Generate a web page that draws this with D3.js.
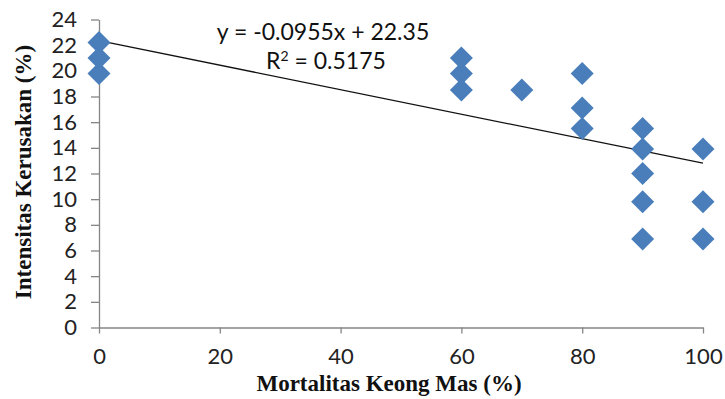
<!DOCTYPE html>
<html><head><meta charset="utf-8">
<script src="https://cdn.jsdelivr.net/npm/d3@7"></script>
<style>body{margin:0;background:#fff;} svg{display:block;}</style>
</head><body>
<svg id="c" width="725" height="399"></svg>
<script>
const mortality = [0,0,0, 60,60,60, 70, 80,80,80, 90,90,90,90,90, 100,100,100];
const damage    = [22.2,21,19.8, 21,19.8,18.5, 18.5, 19.8,17.1,15.5, 15.5,13.9,12,9.8,6.9, 13.9,9.8,6.9];
const xTicks = [0,20,40,60,80,100];
const yTicks = [0,2,4,6,8,10,12,14,16,18,20,22,24];
const slope = -0.0955, intercept = 22.35;
const eqLabel = "y = -0.0955x + 22.35";
const r2Label = "0.5175";
const xTitle = "Mortalitas Keong Mas (%)";
const yTitle = "Intensitas Kerusakan (%)";

const svg = d3.select("#c");
const x = d3.scaleLinear().domain([0,100]).range([99,703]);
const y = d3.scaleLinear().domain([0,24]).range([327.5,19.5]);
const axisColor = "#868686";
const tickFont = "Lato, 'Liberation Sans', sans-serif";

const gx = svg.append("g").attr("transform",`translate(0,${y(0)})`)
  .call(d3.axisBottom(x).tickValues(xTicks).tickSize(6).tickPadding(15).tickSizeOuter(0));
const gy = svg.append("g").attr("transform",`translate(${x(0)},0)`)
  .call(d3.axisLeft(y).tickValues(yTicks).tickSize(8).tickPadding(14).tickSizeOuter(0));
[gx,gy].forEach(g=>{
  g.select(".domain").attr("stroke",axisColor).attr("stroke-width",1.3);
  g.selectAll(".tick line").attr("stroke",axisColor).attr("stroke-width",1.3);
  g.selectAll(".tick text").attr("fill","#222").style("font-family",tickFont).style("font-size","22px");
});

// trendline
svg.append("line")
  .attr("x1",x(0)).attr("y1",y(intercept))
  .attr("x2",x(100)).attr("y2",y(intercept+slope*100))
  .attr("stroke","#111").attr("stroke-width",1.3);

// points
const pts = mortality.map((m,i)=>({m, d:damage[i]}));
const r = 11.5;
svg.append("g").selectAll("path").data(pts).join("path")
  .attr("d",p=>{const cx=x(p.m), cy=y(p.d);return `M${cx},${cy-r}L${cx+r},${cy}L${cx},${cy+r}L${cx-r},${cy}Z`;})
  .attr("fill","#4a7ebb");

// equation
svg.append("text").attr("x",323).attr("y",40).attr("text-anchor","middle")
  .style("font-family",tickFont).style("font-size","23px").attr("fill","#111").text(eqLabel);
const r2 = svg.append("text").attr("x",326).attr("y",69).attr("text-anchor","middle")
  .style("font-family",tickFont).style("font-size","23px").attr("fill","#111");
r2.append("tspan").text("R");
r2.append("tspan").attr("dy",-8).style("font-size","14px").text("2");
r2.append("tspan").attr("dy",8).text(" = " + r2Label);

// axis titles
svg.append("text").attr("x",389).attr("y",391).attr("text-anchor","middle")
  .style("font-family","'Liberation Serif', serif").style("font-weight","bold").style("font-size","23px")
  .attr("fill","#111").text(xTitle);
svg.append("text").attr("transform","translate(31,172) rotate(-90)").attr("text-anchor","middle")
  .style("font-family","'Liberation Serif', serif").style("font-weight","bold").style("font-size","23px")
  .attr("fill","#111").text(yTitle);
</script>
</body></html>
